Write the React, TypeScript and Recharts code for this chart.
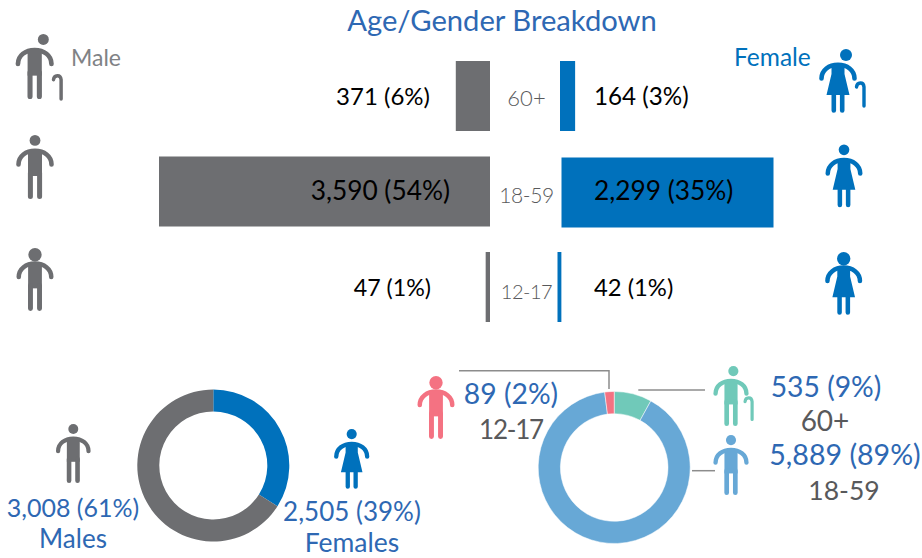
import { BarChart, Bar, XAxis, YAxis, LabelList, PieChart, Pie, Cell } from 'recharts';

const W = 922;
const H = 558;
const FONT = 'Lato, sans-serif';

const ageGroups = ['60+', '18-59', '12-17'];
const maleCounts = [371, 3590, 47];
const femaleCounts = [164, 2299, 42];
const maleLabels = ['371 (6%)', '3,590 (54%)', '47 (1%)'];
const femaleLabels = ['164 (3%)', '2,299 (35%)', '42 (1%)'];

// arc sizes as they are drawn in the picture, not as printed in the labels
const genderSlices = ['Females', 'Males'];
const genderShares = [34, 66];
const ageSlices = ['60+', '18-59', '12-17'];
const ageShares = [8, 90, 2];

const GRAY = '#6d6e71';
const BLUE = '#0071bc';
const TEXT_BLUE = '#2e68b3';
const TEXT_GRAY = '#58595b';
const TEAL = '#70c9b9';
const SKY = '#67a8d6';
const PINK = '#f47282';

const barData = ageGroups.map((age, i) => ({ age, male: maleCounts[i], female: femaleCounts[i] }));
const genderData = genderSlices.map((name, i) => ({ name, value: genderShares[i] }));
const ageData = ageSlices.map((name, i) => ({ name, value: ageShares[i] }));

const genderColors = [BLUE, GRAY];
const ageColors = [TEAL, SKY, PINK];

// the female bars do not quite line up in the original
const femaleNudgeX = [0, 1.5, -2.5];
const femaleNudgeY = [0, 1, 0];
const maleLabelRight = [430, 450, 431];
const maleLabelSize = [24, 26.3, 23.2];
const femaleLabelSize = [24.2, 26.3, 23.8];
const tickNudge = [10.7, 11.5, 12];
const tickSize = [22, 21, 20];
const tickSpacing = [0, -0.4, -0.5];

const chartStyle = { position: 'absolute', left: 0, top: 0 } as const;

const FemaleBar = (props: any) => {
  const { x, y, width, height, fill, index } = props;
  return <rect x={x + femaleNudgeX[index]} y={y + femaleNudgeY[index]} width={width} height={height} fill={fill} />;
};

const AgeTick = ({ y, index }: any) => (
  <text
    x={526.5}
    y={y + tickNudge[index]}
    textAnchor="middle"
    fontFamily={FONT}
    fontWeight={300}
    fontSize={tickSize[index]}
    letterSpacing={tickSpacing[index]}
    fill={TEXT_GRAY}
  >
    {ageGroups[index]}
  </text>
);

const MaleLabel = ({ y, height, index }: any) => (
  <text x={maleLabelRight[index]} y={y + height / 2 + 8.5} textAnchor="end" fontFamily={FONT} fontSize={maleLabelSize[index]} fill="#000">
    {maleLabels[index]}
  </text>
);

const FemaleLabel = ({ y, height, index }: any) => (
  <text x={594} y={y + height / 2 + 8.5} fontFamily={FONT} fontSize={femaleLabelSize[index]} fill="#000">
    {femaleLabels[index]}
  </text>
);

// little pictogram, cx is the body centre and top the top of the head
const Person = ({ cx, top, h, color, female, cane, caneDx = 0, caneTop = 40, headDx = 0, headR = 5.4 }: any) => {
  const s = h / 64;
  return (
    <g transform={`translate(${cx} ${top}) scale(${s})`} fill={color}>
      <circle cx={headDx} cy={headR} r={headR} />
      <path d="M-16.5 29.5 C-16.5 21 -9 15.8 0 15.8 C9 15.8 16.5 21 16.5 29.5" fill="none" stroke={color} strokeWidth={4.6} strokeLinecap="round" />
      {female ? (
        <>
          <path d="M-6.5 15 L6.5 15 L6.5 25 L11.5 46 L-11.5 46 L-6.5 25 Z" />
          <path d="M-4.2 44 V61.5 M4.2 44 V61.5" stroke={color} strokeWidth={4.6} strokeLinecap="round" fill="none" />
        </>
      ) : (
        <>
          <rect x={-7} y={15} width={14} height={26} />
          <path d="M-4.6 38 V61.5 M4.6 38 V61.5" stroke={color} strokeWidth={5} strokeLinecap="round" fill="none" />
        </>
      )}
      {cane && (
        <path
          d={`M${18.5 + caneDx} ${caneTop + 5} C${19 + caneDx} ${caneTop} ${25.5 + caneDx} ${caneTop - 0.5} ${26 + caneDx} ${caneTop + 5} V${caneTop + 24}`}
          fill="none"
          stroke={color}
          strokeWidth={3.4}
          strokeLinecap="round"
        />
      )}
    </g>
  );
};

const Txt = ({ x, y, size = 25, color = TEXT_BLUE, anchor = 'middle', spacing = 0, children }: any) => (
  <text x={x} y={y} fontFamily={FONT} fontSize={size} fill={color} textAnchor={anchor} letterSpacing={spacing}>
    {children}
  </text>
);

export default function App() {
  return (
    <div style={{ position: 'absolute', left: 0, top: 0, width: W, height: H, background: '#fff' }}>
      <BarChart
        style={chartStyle}
        width={W}
        height={H}
        data={barData}
        layout="vertical"
        barSize={70}
        margin={{ top: 48, bottom: H - 334.5, left: 159, right: W - 490 }}
      >
        <XAxis type="number" hide reversed domain={[0, 3590]} />
        <YAxis type="category" dataKey="age" hide />
        <Bar dataKey="male" fill={GRAY} isAnimationActive={false}>
          <LabelList dataKey="male" content={MaleLabel} />
        </Bar>
      </BarChart>

      <BarChart
        style={chartStyle}
        width={W}
        height={H}
        data={barData}
        layout="vertical"
        barSize={70}
        margin={{ top: 48, bottom: H - 334.5, left: 559, right: W - 772 }}
      >
        <XAxis type="number" hide domain={[0, 2299]} />
        <YAxis type="category" dataKey="age" width={1} axisLine={false} tickLine={false} tick={AgeTick} />
        <Bar dataKey="female" fill={BLUE} isAnimationActive={false} shape={FemaleBar}>
          <LabelList dataKey="female" content={FemaleLabel} />
        </Bar>
      </BarChart>

      <PieChart style={chartStyle} width={W} height={H} margin={{ top: 0, right: 0, bottom: 0, left: 0 }}>
        <Pie
          data={genderData}
          dataKey="value"
          cx={213.3}
          cy={465.5}
          innerRadius={54}
          outerRadius={76}
          startAngle={90}
          endAngle={-270}
          stroke="none"
          isAnimationActive={false}
        >
          {genderData.map((d, i) => (
            <Cell key={d.name} fill={genderColors[i]} />
          ))}
        </Pie>
        <Pie
          data={ageData}
          dataKey="value"
          cx={614.2}
          cy={467.5}
          innerRadius={53.8}
          outerRadius={76}
          startAngle={90}
          endAngle={-270}
          stroke="#fff"
          strokeWidth={0.5}
          isAnimationActive={false}
        >
          {ageData.map((d, i) => (
            <Cell key={d.name} fill={ageColors[i]} />
          ))}
        </Pie>
      </PieChart>

      <svg width={W} height={H} style={{ ...chartStyle, pointerEvents: 'none' }}>
        <Txt x={502} y={31} size={29.2}>Age/Gender Breakdown</Txt>
        <Txt x={71} y={66} size={23} color="#808285" anchor="start">Male</Txt>
        <Txt x={734} y={66} size={24.5} color={BLUE} anchor="start">Female</Txt>

        <Person cx={34.7} top={34} h={65} color={GRAY} cane headDx={8.5} />
        <Person cx={35} top={135} h={64} color={GRAY} />
        <Person cx={35} top={248} h={63} color={GRAY} headR={6.8} />
        <Person cx={838} top={49} h={64} color={BLUE} female cane caneTop={33} headDx={8} headR={6} />
        <Person cx={844} top={144.5} h={63} color={BLUE} female />
        <Person cx={843.7} top={252} h={63} color={BLUE} female headR={6.8} />

        <Person cx={73.3} top={424} h={59} color={GRAY} />
        <Person cx={351.7} top={429} h={60} color={BLUE} female />
        <Person cx={436} top={376} h={63} color={PINK} headR={6.8} />
        <Person cx={731} top={366} h={60} color={TEAL} cane caneDx={-3.5} caneTop={33} headDx={2.5} />
        <Person cx={731} top={435} h={60} color={SKY} />

        <g fill="none" stroke="#8c8c8c" strokeWidth={1.5}>
          <path d="M459 370.7 H609 V389" />
          <path d="M638.3 390 H705" />
          <path d="M692 470.7 H715" />
        </g>

        <Txt x={73} y={516.7}>3,008 (61%)</Txt>
        <Txt x={73} y={548} size={26}>Males</Txt>
        <Txt x={352} y={521} size={26}>2,505 (39%)</Txt>
        <Txt x={352} y={551.5} size={26.5}>Females</Txt>
        <Txt x={511} y={404} size={28.3}>89 (2%)</Txt>
        <Txt x={511} y={438.7} size={26} spacing={-1.2} color={TEXT_GRAY}>12-17</Txt>
        <Txt x={826} y={397} size={28.3}>535 (9%)</Txt>
        <Txt x={825} y={431} size={28} color={TEXT_GRAY}>60+</Txt>
        <Txt x={845} y={465} size={28.6}>5,889 (89%)</Txt>
        <Txt x={844} y={500} size={26.5} color={TEXT_GRAY}>18-59</Txt>
      </svg>
    </div>
  );
}
